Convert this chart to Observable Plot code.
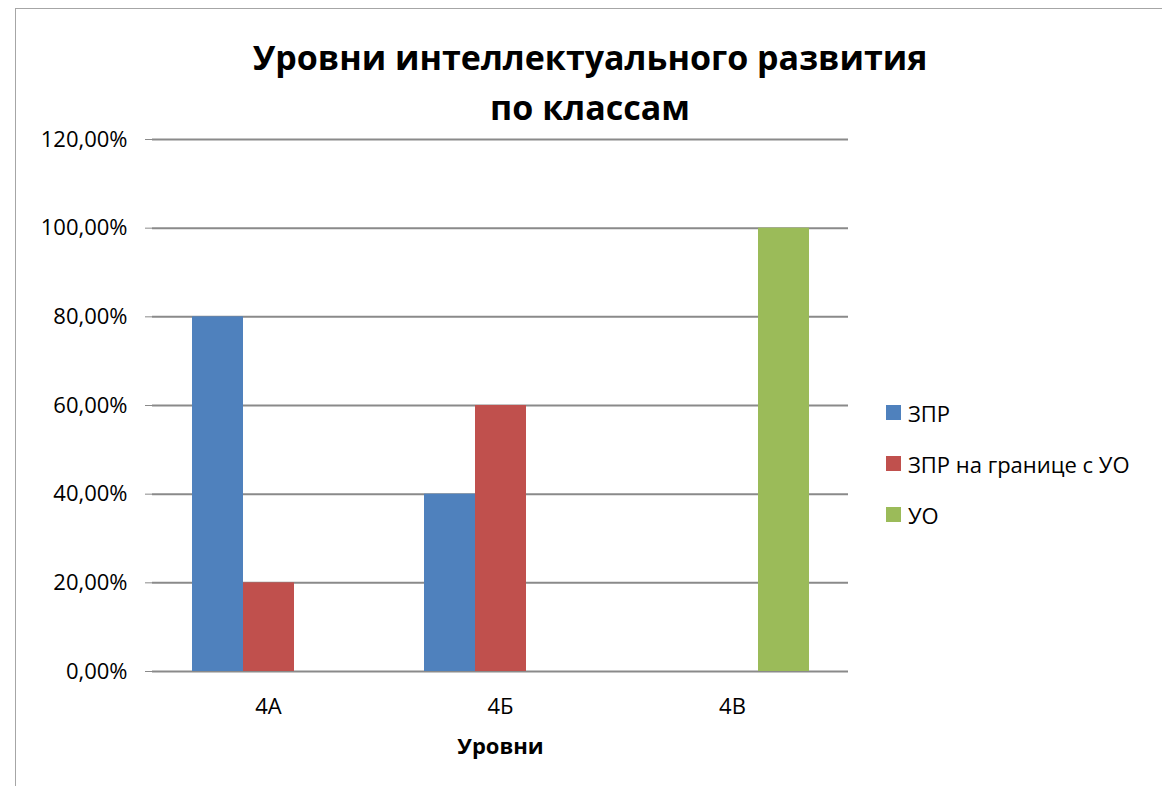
<!DOCTYPE html>
<html>
<head>
<meta charset="utf-8">
<script src="https://cdn.jsdelivr.net/npm/d3@7"></script>
<script src="https://cdn.jsdelivr.net/npm/@observablehq/plot@0.6"></script>
<style>
  html, body { margin: 0; padding: 0; background: #fff; }
  #wrap { position: relative; width: 1162px; height: 786px; overflow: hidden; font-family: "Open Sans", sans-serif; }
  #frame { position: absolute; left: 15px; top: 8px; width: 1200px; height: 900px; border: 1px solid #a6a6a6; box-sizing: border-box; }
  #title { position: absolute; left: 0; width: 1180px; top: 32px; text-align: center; font-weight: bold; font-size: 34px; line-height: 50px; color: #000; }
  #chart { position: absolute; left: 0; top: 100px; }
  #legend { position: absolute; left: 886px; top: 387px; font-size: 22px; color: #000; }
  .item { display: flex; align-items: center; height: 51px; }
  .sw { width: 15px; height: 15px; margin-right: 7px; }
  g[aria-label="fx-axis label"] text { font-weight: bold; }
</style>
</head>
<body>
<div id="wrap">
  <div id="frame"></div>
  <div id="title">Уровни интеллектуального развития<br>по классам</div>
  <div id="chart"></div>
  <div id="legend"></div>
</div>
<script>
const classes = ["4А", "4Б", "4В"];
const series = ["ЗПР", "ЗПР на границе с УО", "УО"];
const colors = ["#4f81bd", "#c0504d", "#9bbb59"];
const valuesZPR = [0.8, 0.4, 0];
const valuesZPRborder = [0.2, 0.6, 0];
const valuesUO = [0, 0, 1.0];
const yTicks = [0, 0.2, 0.4, 0.6, 0.8, 1.0, 1.2];
const xLabel = "Уровни";

const seriesValues = [valuesZPR, valuesZPRborder, valuesUO];
const data = [];
classes.forEach((c, i) => series.forEach((s, j) => data.push({cls: c, series: s, value: seriesValues[j][i]})));

const fmt = d => (d * 100).toFixed(2).replace(".", ",") + "%";

const chart = Plot.plot({
  width: 1162,
  height: 686,
  marginLeft: 152,
  marginRight: 314,
  marginTop: 39,
  marginBottom: 115,
  style: {background: "none", fontFamily: "Open Sans, sans-serif", fontSize: "22px", color: "#000"},
  fx: {domain: classes, padding: 0, label: null},
  x: {domain: series, paddingInner: 0, paddingOuter: 0.76, axis: null},
  y: {domain: [0, 1.2], label: null},
  color: {domain: series, range: colors},
  marks: [
    Plot.ruleY(yTicks, {stroke: "#8a8a8a", strokeWidth: 2, strokeOpacity: 1}),
    Plot.barY(data, {fx: "cls", x: "series", y: "value", fill: "series"}),
    Plot.axisY({ticks: yTicks, tickFormat: fmt, tickSize: 7, tickPadding: 18, stroke: "#8a8a8a", fontSize: 22, label: null}),
    Plot.ruleX([0], {frameAnchor: "left", facet: "exclude", stroke: "#8a8a8a", strokeWidth: 2}),
    Plot.axisFx({anchor: "bottom", tickSize: 0, tickPadding: 27, fontSize: 22, label: xLabel, labelAnchor: "center", labelOffset: 82})
  ]
});
document.getElementById("chart").appendChild(chart);

const legend = document.getElementById("legend");
series.forEach((s, j) => {
  const it = document.createElement("div");
  it.className = "item";
  const sw = document.createElement("div");
  sw.className = "sw";
  sw.style.background = colors[j];
  const t = document.createElement("span");
  t.textContent = s;
  it.appendChild(sw); it.appendChild(t);
  legend.appendChild(it);
});
</script>
</body>
</html>
